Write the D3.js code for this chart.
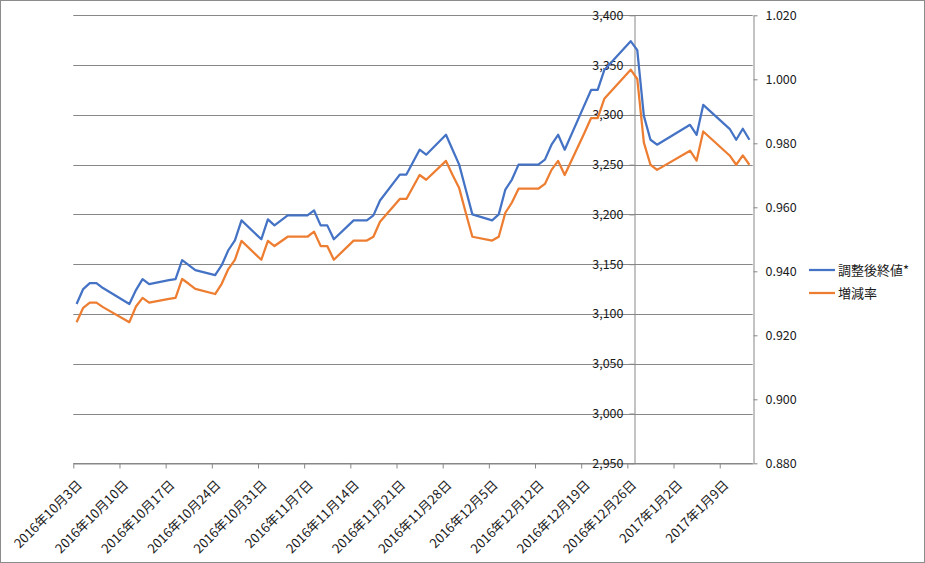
<!DOCTYPE html>
<html><head><meta charset="utf-8">
<script src="https://cdn.jsdelivr.net/npm/d3@7"></script>
<style>body{margin:0;background:#fff} svg{display:block}</style>
</head><body>
<svg id="c" width="925" height="563"></svg>
<script>
// ---- data ----
const dates = ["2016-10-03","2016-10-04","2016-10-05","2016-10-06","2016-10-07","2016-10-11","2016-10-12","2016-10-13","2016-10-14",
"2016-10-17","2016-10-18","2016-10-19","2016-10-20","2016-10-21","2016-10-24","2016-10-25","2016-10-26","2016-10-27","2016-10-28",
"2016-10-31","2016-11-01","2016-11-02","2016-11-04","2016-11-07","2016-11-08","2016-11-09","2016-11-10","2016-11-11",
"2016-11-14","2016-11-15","2016-11-16","2016-11-17","2016-11-18","2016-11-21","2016-11-22","2016-11-24","2016-11-25",
"2016-11-28","2016-11-29","2016-11-30","2016-12-01","2016-12-02","2016-12-05","2016-12-06","2016-12-07","2016-12-08","2016-12-09",
"2016-12-12","2016-12-13","2016-12-14","2016-12-15","2016-12-16","2016-12-19","2016-12-20","2016-12-21","2016-12-22",
"2016-12-26","2016-12-27","2016-12-28","2016-12-29","2016-12-30","2017-01-04","2017-01-05","2017-01-06",
"2017-01-10","2017-01-11","2017-01-12","2017-01-13"];
const adjClose = [3110,3125,3131,3131,3126,3110,3124,3135,3130,
3134,3135,3154,3149,3144,3139,3149,3164,3174,3194,
3175,3195,3189,3199,3199,3204,3189,3189,3175,
3194,3194,3194,3199,3214,3240,3240,3265,3260,
3280,3265,3250,3225,3200,3194,3200,3225,3235,3250,
3250,3255,3270,3280,3265,3310,3325,3325,3345,
3374,3365,3299,3275,3270,3290,3280,3310,
3286,3275,3286,3275];
const changeRate = [0.9241,0.9286,0.9302,0.9302,0.9288,0.9241,0.9290,0.9317,0.9302,
0.9314,0.9317,0.9376,0.9361,0.9345,0.9329,0.9361,0.9407,0.9436,0.9495,
0.9436,0.9495,0.9479,0.9508,0.9508,0.9524,0.9479,0.9479,0.9436,
0.9496,0.9496,0.9496,0.9508,0.9555,0.9626,0.9626,0.9701,0.9686,
0.9745,0.9701,0.9660,0.9583,0.9508,0.9496,0.9508,0.9583,0.9615,0.9658,
0.9658,0.9673,0.9717,0.9745,0.9701,0.9833,0.9879,0.9879,0.9939,
1.0030,1.0001,0.9802,0.9733,0.9717,0.9777,0.9746,0.9837,
0.9762,0.9733,0.9762,0.9733];
const seriesNames = ["調整後終値*","増減率"];
const xTickDates = ["2016-10-03","2016-10-10","2016-10-17","2016-10-24","2016-10-31","2016-11-07","2016-11-14","2016-11-21",
"2016-11-28","2016-12-05","2016-12-12","2016-12-19","2016-12-26","2017-01-02","2017-01-09"];
const xDomain = ["2016-10-03","2017-01-14"];
const yAxisCross = "2016-12-27";
const leftTicks = [2950,3000,3050,3100,3150,3200,3250,3300,3350,3400];
const rightTicks = [0.88,0.90,0.92,0.94,0.96,0.98,1.00,1.02];
const colors = ["#4472C4","#ED7D31"];

// ---- chart ----
const parse = d3.utcParse("%Y-%m-%d");
const fmtX = d3.utcFormat("%Y年%-m月%-d日");
const font = "'Noto Sans CJK JP', 'Noto Sans', sans-serif";
const svg = d3.select("#c").style("font-family", font);
const L = 73.3, R = 752.7, T = 15.3, B = 463.3;
const gridCol = "#878787", textCol = "#1a1a1a";

svg.append("rect").attr("x",0.5).attr("y",0.5).attr("width",924).attr("height",562)
  .attr("fill","#fff").attr("stroke","#8c8c8c");

const x = d3.scaleUtc().domain(xDomain.map(parse)).range([L,R]);
const yL = d3.scaleLinear().domain([2950,3400]).range([B,T]);
const yR = d3.scaleLinear().domain([0.88,1.02]).range([B,T]);
const mid = d => d3.utcHour.offset(d,12);

// gridlines
svg.append("g").selectAll("line").data(leftTicks).join("line")
  .attr("x1",L).attr("x2",R).attr("y1",d=>Math.round(yL(d))+0.5).attr("y2",d=>Math.round(yL(d))+0.5)
  .attr("stroke",gridCol).attr("stroke-width",1);

// x axis
const gx = svg.append("g").attr("transform",`translate(0,${Math.round(B)+0.5})`)
  .call(d3.axisBottom(x).tickValues(xTickDates.map(parse)).tickFormat(fmtX).tickSize(5).tickSizeOuter(0));
gx.select(".domain").attr("stroke",gridCol);
gx.selectAll(".tick line").attr("stroke",gridCol);
gx.selectAll(".tick text").attr("fill",textCol).style("font-size","13px").style("font-family",font)
  .attr("text-anchor","end").attr("x",0).attr("y",0).attr("dy","0.35em")
  .attr("transform","translate(6,19) rotate(-45)");

// left axis at crossing date
const gl = svg.append("g").attr("transform",`translate(${Math.round(x(parse(yAxisCross)))+0.5},0)`)
  .call(d3.axisLeft(yL).tickValues(leftTicks).tickFormat(d3.format(",")).tickSize(5).tickPadding(6).tickSizeOuter(0));
gl.select(".domain").attr("stroke",gridCol);
gl.selectAll(".tick line").attr("stroke",gridCol);
gl.selectAll(".tick text").attr("fill",textCol).style("font-size","12.5px").style("font-family",font);

// right axis
const gr = svg.append("g").attr("transform",`translate(${Math.round(R)+0.5},0)`)
  .call(d3.axisRight(yR).tickValues(rightTicks).tickFormat(d3.format(".3f")).tickSize(4).tickPadding(8).tickSizeOuter(0));
gr.select(".domain").attr("stroke",gridCol);
gr.selectAll(".tick line").attr("stroke",gridCol);
gr.selectAll(".tick text").attr("fill",textCol).style("font-size","12.5px").style("font-family",font);

// lines
const pts = dates.map((d,i)=>({date:parse(d), a:adjClose[i], r:changeRate[i]}));
svg.append("path").datum(pts).attr("fill","none").attr("stroke",colors[1]).attr("stroke-width",2.25)
  .attr("stroke-linejoin","round").attr("d",d3.line().x(d=>x(mid(d.date))).y(d=>yR(d.r)));
svg.append("path").datum(pts).attr("fill","none").attr("stroke",colors[0]).attr("stroke-width",2.25)
  .attr("stroke-linejoin","round").attr("d",d3.line().x(d=>x(mid(d.date))).y(d=>yL(d.a)));

// legend
const lg = svg.append("g");
seriesNames.forEach((n,i)=>{
  const yy = 270 + i*23;
  lg.append("line").attr("x1",809).attr("x2",835).attr("y1",yy).attr("y2",yy)
    .attr("stroke",colors[i]).attr("stroke-width",2.25);
  lg.append("text").attr("x",838).attr("y",yy).attr("dy","0.35em").attr("fill",textCol)
    .style("font-size","13px").text(n);
});
</script>
</body></html>
